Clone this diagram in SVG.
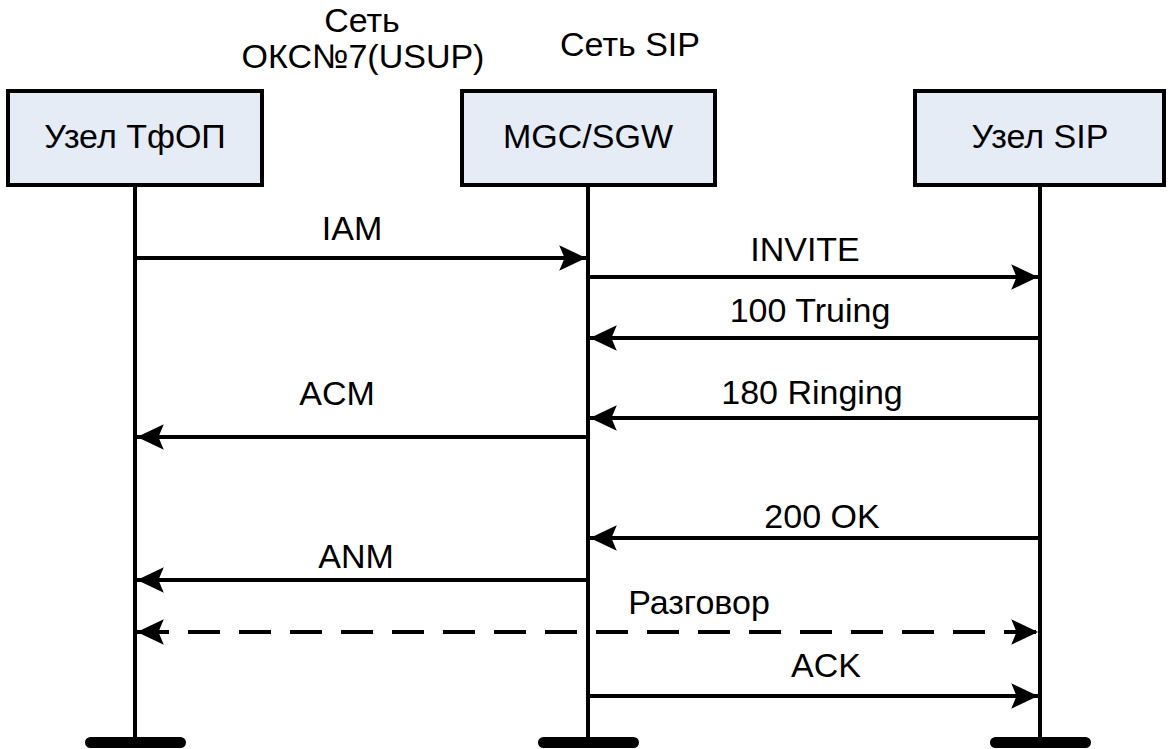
<svg xmlns="http://www.w3.org/2000/svg" width="1168" height="749" viewBox="0 0 1168 749">
<style>
text{font-family:"Liberation Sans",Arial,sans-serif;font-size:34px;fill:#000;text-anchor:middle}
.box{fill:#E6ECF6;stroke:#000;stroke-width:4}
.life{stroke:#000;stroke-width:4;fill:none}
.bar{fill:#000}
.msg{stroke:#000;stroke-width:4;fill:none}
.dash{stroke-dasharray:32 19}
</style>
<defs>
<marker id="ah" markerUnits="userSpaceOnUse" markerWidth="30" markerHeight="30" viewBox="-26 -13 28 26" refX="0" refY="0" orient="auto-start-reverse">
<path d="M0,0 L-25,-12 L-20,0 L-25,12 Z" fill="#000"/>
</marker>
</defs>
<rect width="1168" height="749" fill="#fff"/>
<g id="labels-top">
<text x="362" y="32">Сеть</text>
<text x="363" y="68">ОКС№7(USUP)</text>
<text x="630" y="56">Сеть SIP</text>
</g>
<g id="node-tfop">
<rect class="box" x="8" y="91" width="254" height="94"/>
<text x="135" y="148">Узел ТфОП</text>
<line class="life" x1="135" y1="185" x2="135" y2="740"/>
<rect class="bar" x="85" y="737" width="101" height="11" rx="5.5"/>
</g>
<g id="node-mgc">
<rect class="box" x="462" y="91" width="253" height="94"/>
<text x="588" y="148">MGC/SGW</text>
<line class="life" x1="588" y1="185" x2="588" y2="740"/>
<rect class="bar" x="538" y="737" width="101" height="11" rx="5.5"/>
</g>
<g id="node-sip">
<rect class="box" x="915" y="91" width="249" height="94"/>
<text x="1040" y="148">Узел SIP</text>
<line class="life" x1="1040" y1="185" x2="1040" y2="740"/>
<rect class="bar" x="990" y="737" width="101" height="11" rx="5.5"/>
</g>
<g id="connectors">
<line class="msg" x1="137" y1="258" x2="586" y2="258" marker-end="url(#ah)"/>
<line class="msg" x1="590" y1="277" x2="1038" y2="277" marker-end="url(#ah)"/>
<line class="msg" x1="1038" y1="338" x2="590" y2="338" marker-end="url(#ah)"/>
<line class="msg" x1="1038" y1="418" x2="590" y2="418" marker-end="url(#ah)"/>
<line class="msg" x1="586" y1="437" x2="137" y2="437" marker-end="url(#ah)"/>
<line class="msg" x1="1038" y1="538" x2="590" y2="538" marker-end="url(#ah)"/>
<line class="msg" x1="586" y1="580" x2="137" y2="580" marker-end="url(#ah)"/>
<line class="msg dash" x1="137" y1="632" x2="1038" y2="632" marker-start="url(#ah)" marker-end="url(#ah)"/>
<line class="msg" x1="590" y1="696" x2="1038" y2="696" marker-end="url(#ah)"/>
</g>
<g id="connector-labels">
<text x="352" y="240">IAM</text>
<text x="805" y="261">INVITE</text>
<text x="810" y="322">100 Truing</text>
<text x="812" y="404">180 Ringing</text>
<text x="337" y="405">ACM</text>
<text x="822" y="528">200 OK</text>
<text x="356" y="568">ANM</text>
<text x="699" y="614">Разговор</text>
<text x="826" y="677">ACK</text>
</g>
</svg>
